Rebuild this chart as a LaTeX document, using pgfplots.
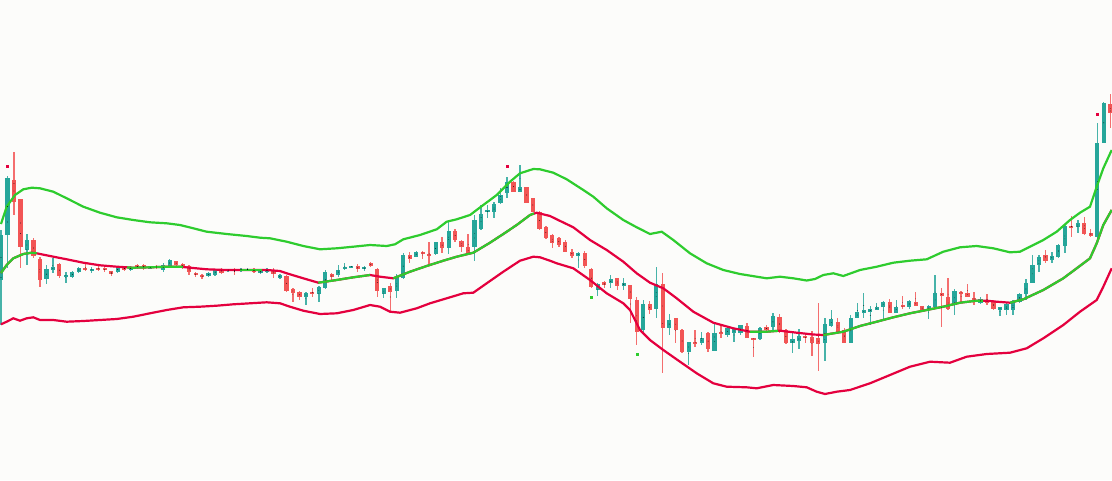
\documentclass[border=0pt]{standalone}
\usepackage{pgfplots}
\usepackage{pgfplotstable}
\pgfplotsset{compat=1.18}
\definecolor{bgc}{RGB}{252,252,250}
\definecolor{upc}{RGB}{38,166,154}
\definecolor{dnc}{RGB}{242,85,85}
\definecolor{bandg}{RGB}{46,204,46}
\definecolor{bandr}{RGB}{228,0,62}
\pgfplotsset{candle/.style={only marks, mark=*, mark size=0.01pt,
  mark options={draw=none, fill=none}, error bars/.cd, y dir=both, y explicit, error mark=none}}

\pgfplotstableread{
i o h l c
0 280 230 325 235
1 235 176 268 178
4 250 234 265 240
7 279 265 284 269
8 270 258 273 267
10 277 272 283 274.5
11 277 271 277.5 272
12 272 267 273 268
14 270.5 267 273 268.5
18 272 266 272.5 267
20 270 266 270.5 267
23 268 266 269 267
25 270 263 271.5 264.5
26 266 258.5 267.5 260
32 276 272 277 273
33 274.5 269 276 269.5
35 270.5 269 272 269.5
37 271 267.5 271.5 268.5
38 270 268 271 269
40 273 270 274 270.5
41 272 268 273 268.5
43 278 274 278.5 274.5
47 297 291.5 305 293
49 294 286 301.5 287
50 288 270 289 272
52 275 265 277 269.5
53 269.3 263 270 266.7
54 267.3 265.5 268 266
56 269.3 266 270.7 266.7
59 294 288 298.3 288.3
61 290.7 274 298 277
62 278.3 253 279 255
64 256.7 251 257 252
67 254.3 241.7 255 242.3
69 248.3 220 254.3 231
73 246.7 215 261 220
74 229 205 230 214.3
75 212.3 205 217.7 210
76 211.7 201.7 217.7 204.3
77 203.3 188.3 204.3 195
78 193.3 176.7 198.3 181.7
80 192.3 165 192.3 186.7
89 255.7 251.7 268.3 253.3
92 290 283 295.7 284
94 283.3 275 287.7 279
96 285.7 277.7 290 283.3
99 330 300 335 304.3
101 309 266.7 318.3 284.3
103 327.7 314.3 335 320
106 351.7 342 365 342.3
108 343.3 331.7 345 338.3
110 350.7 323.3 350.7 332.7
112 335 326 336.7 328.3
113 332.7 328.3 341.7 329.3
114 333.3 324.7 335 325
117 339.3 327.3 340 328.3
119 327.3 313.3 330.7 316
122 343.3 331.7 352.7 339.3
123 340.7 329.3 349.3 336
127 342.7 318.3 360.7 324
128 326 310 326.7 319.3
131 343.3 315 343.3 318.3
132 318.3 302.7 318.3 311.7
133 313.3 292.7 318.3 310
134 311.7 306 325 309.3
135 310 302.7 310 306.7
136 306.7 301 319.3 301.7
138 312.7 300 312.7 306.7
140 306.7 300 309.3 300.7
143 310 305 319.3 306
144 306.7 275 309.3 293.3
147 305 289.3 315 290.7
151 302.7 296.7 304 299.3
154 310 306.7 316 307.3
155 310 301.7 315 304
156 310 300 315 300.7
157 301.7 293.3 302.7 294
158 294 279.3 300 283.3
159 282.7 255 282.7 265
160 265 255 271.7 256.7
162 260 251.7 263.3 256
163 256.7 244 258.3 245
164 246 225 252.7 226
166 226.7 220 232.7 223.3
169 236.7 123.3 239.3 142.7
170 143.3 101.7 143.3 102.7
}\upt

\pgfplotstableread{
i o h l c
2 180 152 215 202
3 199 199 268 247
5 240 238 258 256
6 259 257 287 280
9 264 263 278 276
13 268 264 271 270
15 268 266 271 270
16 268.5 267 272 270
17 271 271 276 273.5
19 267 266 271 270
21 265 264 269 268
22 265 264 270 268
24 266 265 269 268
27 261 260.5 266 265
28 263.5 263 268.5 267
29 266 265 275 272
30 273 272 277 275
31 275 274 279 277
34 269 268 274 273
36 269.5 268 275 271
39 269 268 273 272
42 270 268 278 274
44 276 275 292 290.5
45 289 287.5 302 293
46 292 290.5 299.5 297
48 291.5 288 296.5 294
51 273.5 272.5 281 277
55 266 264.3 271.7 269.3
57 262.7 261.7 266.7 266
58 269.3 268.3 296.7 290.7
60 286 283 311 292
63 255 251.7 263.3 259
65 251.7 251 259 254.3
66 254 242.3 265 255.7
68 242.3 236.7 253.3 248.3
70 231 229 242.3 240
71 241 240 251.7 246.7
72 247 234 255 254
79 181.7 181 192.3 191.7
81 186.7 186.7 203.3 203.3
82 198.3 197.7 212.3 211.7
83 211.7 211 230 229
84 227 225.7 239 238
85 235 234.3 248.3 243.3
86 238 237 246.5 245
87 241.7 240 252.3 251.7
88 251.7 249 257.7 255.7
90 253 251 268 266
91 269.3 268.3 288.3 286.7
93 282 281 288 285
95 278.3 277.7 290 285.7
97 285 284.7 323.3 299
98 300 296.7 345 331.7
100 304.3 301 314.3 310
102 284.3 273.3 373.3 327.7
104 318.3 317.7 343.3 330
105 330 329 353.3 351.7
107 341.7 330 346.7 343.3
109 332.7 331.7 351.7 349.3
111 331.7 325 338.3 334
115 326 322.7 338.3 338.3
116 338.3 338 356.7 339.5
118 327 325 331.7 330
120 317.3 314 333.3 331.7
121 330 329.3 344 342.7
124 336 332.7 342.7 338.3
125 337.3 330.7 356 342.7
126 338.3 302.7 370.7 344
129 321.7 318.3 333.3 332.7
130 330 328.3 343.3 343.3
137 301.7 299.3 312.7 312.7
139 305 296 309.3 307.3
141 301.7 291.7 306 306
142 306 306 311.7 310
145 293.3 288.3 326.7 296
146 296.7 278.3 310 309.3
148 291.7 290.7 302.7 294
149 292.7 284 296.7 296.7
150 298.3 291.7 305 301.7
152 300 294 305 302.7
153 300.7 300 310 309.3
161 255 250 262.7 260.7
165 226 216 236.7 227.3
167 223.3 216.7 235 234
168 233.3 229.3 237.3 236
171 104 94 128 113.3
}\dnt

\begin{document}
\begin{tikzpicture}
\fill[bgc] (0,0) rectangle (1112pt,480pt);
\begin{axis}[at={(0,0)}, anchor=south west, scale only axis,
  width=1112pt, height=480pt, xmin=0, xmax=1112, ymin=0, ymax=480,
  y dir=reverse, hide axis, clip=true]
% wicks
\addplot[candle, error bar style={line width=1.3pt, draw=upc!85!white}]
  table[x expr={1+6.487*\thisrow{i}}, y expr={(\thisrow{h}+\thisrow{l})/2},
        y error expr={(\thisrow{l}-\thisrow{h})/2}] {\upt};
\addplot[candle, error bar style={line width=1.3pt, draw=dnc!85!white}]
  table[x expr={1+6.487*\thisrow{i}}, y expr={(\thisrow{h}+\thisrow{l})/2},
        y error expr={(\thisrow{l}-\thisrow{h})/2}] {\dnt};
% bodies
\addplot[candle, error bar style={line width=4.2pt, draw=upc}]
  table[x expr={1+6.487*\thisrow{i}}, y expr={(\thisrow{o}+\thisrow{c})/2},
        y error expr={max(abs(\thisrow{o}-\thisrow{c})/2,0.8)}] {\upt};
\addplot[candle, error bar style={line width=4.2pt, draw=dnc}]
  table[x expr={1+6.487*\thisrow{i}}, y expr={(\thisrow{o}+\thisrow{c})/2},
        y error expr={max(abs(\thisrow{o}-\thisrow{c})/2,0.8)}] {\dnt};
% upper band
\addplot[bandg, line width=2.2pt] coordinates {
(1,224)(6.7,206.7)(15,195)(23.3,189.3)(31.7,187.7)(40,188.3)(53.3,191.7)(66.7,198.3)(83.3,206.7)(100,212.7)(116.7,217.3)(133.3,220)(150,222.3)(166.7,223.3)(180,225)(193.3,228.3)(206.7,231.7)(226.7,234)(246.7,236)(260,237.7)(270,238.3)(286.7,241.7)(303.3,246)(320,249.3)(336.7,248.3)(353.3,246.7)(370,245)(386.7,246)(395,244.3)(403.3,239.3)(420,235)(436.7,229.3)(446.7,221.7)(456.7,219.3)(470,215)(483.3,205)(496.7,195)(510,181.7)(520,173.3)(533.3,169)(540,169.3)(553.3,172.7)(566.7,179.3)(583.3,190)(593.3,196.7)(606.7,208.3)(623.3,220)(636.7,227.3)(650,234)(661.7,231.7)(673.3,240)(690,253.3)(706.7,263.3)(723.3,270)(740,274)(756.7,276.7)(766.7,278.3)(780,276.7)(793.3,278.3)(806.7,280.5)(815,279)(823.3,275)(833.3,273.3)(843.3,276)(860,270)(876.7,266.7)(893.3,262.7)(910,260.7)(926.7,259.3)(943.3,251.7)(960,247.3)(976.7,246)(993.3,248.3)(1010,252.3)(1020,251.7)(1030,246.7)(1043.3,240)(1056.7,231.7)(1070,220)(1080,212.7)(1090,206.7)(1096.7,186.7)(1103.3,168.3)(1111.7,150)};
% lower band
\addplot[bandr, line width=2.2pt] coordinates {
(1,324.3)(6.7,321.7)(13.3,318.3)(20,320.7)(26.7,318.3)(33.3,317.3)(40,320)(53.3,320)(66.7,321.7)(83.3,321)(100,320)(116.7,319)(133.3,316.7)(150,313.3)(166.7,310)(183.3,307.3)(200,306.7)(216.7,305.7)(233.3,304.3)(250,303.3)(266.7,302.3)(280,303.3)(290,306.7)(303.3,310.7)(320,314)(336.7,313.3)(353.3,310)(370,305)(380,306.7)(390,311.7)(400,312.7)(416.7,308.3)(430,303.3)(446.7,298.3)(463.3,293.3)(473.3,292.7)(486.7,283.3)(503.3,271.7)(520,260.7)(533.3,256.7)(540,257.3)(550,260.7)(556.7,263.3)(573.3,268.3)(590,280)(606.7,293.3)(623.3,303.3)(630,310)(640,330)(650,340)(663.3,350)(680,361.7)(696.7,373.3)(713.3,383.3)(726.7,386.7)(746.7,387.3)(756.7,388.3)(773.3,385)(793.3,386)(806.7,387.3)(816.7,391.7)(825,394)(836.7,391.7)(850,390)(870,383.3)(890,375)(910,366.7)(930,361.7)(950,362.7)(966.7,356.7)(986.7,354)(1010,352.7)(1026.7,348.3)(1043.3,338.3)(1063.3,325)(1080,311.7)(1096.7,300)(1103.3,286.7)(1111.7,268.3)};
% middle band (red base)
\addplot[bandr, line width=2.2pt] coordinates {
(1,273)(6.7,265)(13.3,258.3)(23.3,254)(31.7,252.7)(36.7,253.3)(50,256)(66.7,259.3)(83.3,262.7)(100,265.3)(116.7,266.7)(133.3,267.7)(150,267.3)(166.7,266.7)(180,266.7)(190,267.7)(206.7,269.3)(226.7,270)(246.7,270)(266.7,270)(280,271)(286.7,273.3)(303.3,278.3)(318.3,282.7)(336.7,280)(353.3,277.3)(370,275)(380,276.7)(393.3,278.3)(410,271.7)(426.7,266)(443.3,260.7)(456.7,256.7)(473.3,252.7)(490,242.7)(503.3,234)(516.7,225)(530,215)(536.7,212.7)(550,216)(556.7,219.3)(573.3,227.3)(590,240)(606.7,250)(623.3,261.7)(636.7,273.3)(650,282.7)(663.3,288.3)(676.7,298.3)(693.3,311.7)(713.3,322.7)(733.3,328.3)(750,331.7)(766.7,331.7)(780,330.7)(796.7,332.7)(813.3,334.5)(823.3,335)(843.3,331.7)(860,326)(876.7,321.7)(893.3,317.3)(910,313.3)(926.7,310)(943.3,306.7)(960,302.7)(976.7,300.7)(986.7,300.7)(996.7,301.7)(1010,302.7)(1023.3,299.3)(1043.3,290)(1063.3,278.3)(1076.7,268.3)(1090,258.3)(1096.7,243.3)(1103.3,225)(1111.7,210)};
% middle band green segments
\addplot[bandg, line width=2.2pt] coordinates {(1,273)(6.7,265)(13.3,258.3)(23.3,254)(31.7,252.7)(36.7,253.3)};
\addplot[bandg, line width=2.2pt] coordinates {(127,267.5)(133.3,267.7)(150,267.3)(166.7,266.7)(180,266.7)(183,267)};
\addplot[bandg, line width=2.2pt] coordinates {(240,270)(246.7,270)(262,270)};
\addplot[bandg, line width=2.2pt] coordinates {(318.3,282.7)(336.7,280)(353.3,277.3)(370,275)};
\addplot[bandg, line width=2.2pt] coordinates {(393.3,278.3)(410,271.7)(426.7,266)(443.3,260.7)(456.7,256.7)(473.3,252.7)(490,242.7)(503.3,234)(516.7,225)(530,215)(534,213.5)};
\addplot[bandg, line width=2.2pt] coordinates {(750,331.7)(766.7,331.7)(778,330.8)};
\addplot[bandg, line width=2.2pt] coordinates {(823.3,335)(843.3,331.7)(860,326)(876.7,321.7)(893.3,317.3)(910,313.3)(926.7,310)(943.3,306.7)(960,302.7)(976.7,300.7)(983,300.7)};
\addplot[bandg, line width=2.2pt] coordinates {(1010,302.7)(1023.3,299.3)(1043.3,290)(1063.3,278.3)(1076.7,268.3)(1090,258.3)(1096.7,243.3)(1103.3,225)(1111.7,210)};
% signal markers
\addplot[only marks, mark=square*, mark size=1pt, bandr] coordinates {(7.5,166.5)(506.7,166.5)(1096.7,114.5)};
\addplot[only marks, mark=square*, mark size=1pt, bandg] coordinates {(591,297)(636.7,354.3)};
\end{axis}
\end{tikzpicture}
\end{document}
